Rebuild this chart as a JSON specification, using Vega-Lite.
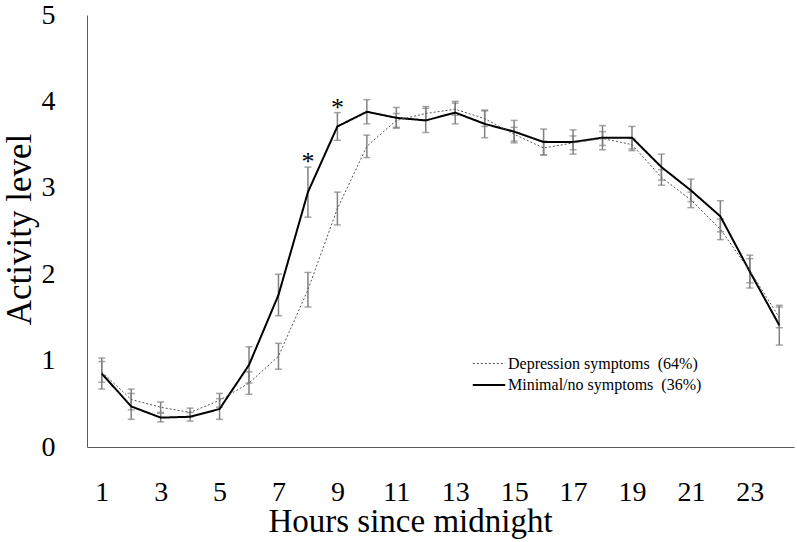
{
  "$schema": "https://vega.github.io/schema/vega-lite/v6.json",
  "width": 707,
  "height": 432,
  "autosize": {"type": "none"},
  "padding": {"left": 87, "top": 15, "right": 3, "bottom": 95},
  "background": "white",
  "config": {
    "view": {"stroke": null},
    "font": "Liberation Serif",
    "axis": {"grid": false, "ticks": false, "domainColor": "#595959", "domainWidth": 1, "labelColor": "black", "titleColor": "black", "labelFont": "Liberation Serif", "titleFont": "Liberation Serif", "titleFontWeight": "normal"}
  },
  "data": {
    "values": [
      {"hour": 1, "group": "Minimal/no symptoms\u00a0 (36%)", "mean": 0.85, "lo": 0.67, "hi": 1.03, "sig": ""},
      {"hour": 2, "group": "Minimal/no symptoms\u00a0 (36%)", "mean": 0.47, "lo": 0.32, "hi": 0.62, "sig": ""},
      {"hour": 3, "group": "Minimal/no symptoms\u00a0 (36%)", "mean": 0.34, "lo": 0.29, "hi": 0.39, "sig": ""},
      {"hour": 4, "group": "Minimal/no symptoms\u00a0 (36%)", "mean": 0.35, "lo": 0.30, "hi": 0.40, "sig": ""},
      {"hour": 5, "group": "Minimal/no symptoms\u00a0 (36%)", "mean": 0.44, "lo": 0.32, "hi": 0.56, "sig": ""},
      {"hour": 6, "group": "Minimal/no symptoms\u00a0 (36%)", "mean": 0.95, "lo": 0.74, "hi": 1.16, "sig": ""},
      {"hour": 7, "group": "Minimal/no symptoms\u00a0 (36%)", "mean": 1.76, "lo": 1.52, "hi": 2.00, "sig": ""},
      {"hour": 8, "group": "Minimal/no symptoms\u00a0 (36%)", "mean": 2.95, "lo": 2.66, "hi": 3.24, "sig": "*"},
      {"hour": 9, "group": "Minimal/no symptoms\u00a0 (36%)", "mean": 3.71, "lo": 3.55, "hi": 3.87, "sig": "*"},
      {"hour": 10, "group": "Minimal/no symptoms\u00a0 (36%)", "mean": 3.88, "lo": 3.74, "hi": 4.02, "sig": ""},
      {"hour": 11, "group": "Minimal/no symptoms\u00a0 (36%)", "mean": 3.81, "lo": 3.69, "hi": 3.93, "sig": ""},
      {"hour": 12, "group": "Minimal/no symptoms\u00a0 (36%)", "mean": 3.78, "lo": 3.64, "hi": 3.92, "sig": ""},
      {"hour": 13, "group": "Minimal/no symptoms\u00a0 (36%)", "mean": 3.87, "lo": 3.74, "hi": 4.00, "sig": ""},
      {"hour": 14, "group": "Minimal/no symptoms\u00a0 (36%)", "mean": 3.74, "lo": 3.58, "hi": 3.90, "sig": ""},
      {"hour": 15, "group": "Minimal/no symptoms\u00a0 (36%)", "mean": 3.65, "lo": 3.52, "hi": 3.78, "sig": ""},
      {"hour": 16, "group": "Minimal/no symptoms\u00a0 (36%)", "mean": 3.53, "lo": 3.38, "hi": 3.68, "sig": ""},
      {"hour": 17, "group": "Minimal/no symptoms\u00a0 (36%)", "mean": 3.53, "lo": 3.39, "hi": 3.67, "sig": ""},
      {"hour": 18, "group": "Minimal/no symptoms\u00a0 (36%)", "mean": 3.58, "lo": 3.44, "hi": 3.72, "sig": ""},
      {"hour": 19, "group": "Minimal/no symptoms\u00a0 (36%)", "mean": 3.58, "lo": 3.45, "hi": 3.71, "sig": ""},
      {"hour": 20, "group": "Minimal/no symptoms\u00a0 (36%)", "mean": 3.24, "lo": 3.09, "hi": 3.39, "sig": ""},
      {"hour": 21, "group": "Minimal/no symptoms\u00a0 (36%)", "mean": 2.97, "lo": 2.84, "hi": 3.10, "sig": ""},
      {"hour": 22, "group": "Minimal/no symptoms\u00a0 (36%)", "mean": 2.67, "lo": 2.49, "hi": 2.85, "sig": ""},
      {"hour": 23, "group": "Minimal/no symptoms\u00a0 (36%)", "mean": 2.03, "lo": 1.84, "hi": 2.22, "sig": ""},
      {"hour": 24, "group": "Minimal/no symptoms\u00a0 (36%)", "mean": 1.41, "lo": 1.18, "hi": 1.64, "sig": ""},
      {"hour": 1, "group": "Depression symptoms\u00a0 (64%)", "mean": 0.87, "lo": 0.75, "hi": 0.99, "sig": ""},
      {"hour": 2, "group": "Depression symptoms\u00a0 (64%)", "mean": 0.55, "lo": 0.43, "hi": 0.67, "sig": ""},
      {"hour": 3, "group": "Depression symptoms\u00a0 (64%)", "mean": 0.46, "lo": 0.40, "hi": 0.52, "sig": ""},
      {"hour": 4, "group": "Depression symptoms\u00a0 (64%)", "mean": 0.40, "lo": 0.35, "hi": 0.45, "sig": ""},
      {"hour": 5, "group": "Depression symptoms\u00a0 (64%)", "mean": 0.54, "lo": 0.46, "hi": 0.62, "sig": ""},
      {"hour": 6, "group": "Depression symptoms\u00a0 (64%)", "mean": 0.74, "lo": 0.61, "hi": 0.87, "sig": ""},
      {"hour": 7, "group": "Depression symptoms\u00a0 (64%)", "mean": 1.05, "lo": 0.90, "hi": 1.20, "sig": ""},
      {"hour": 8, "group": "Depression symptoms\u00a0 (64%)", "mean": 1.82, "lo": 1.62, "hi": 2.02, "sig": ""},
      {"hour": 9, "group": "Depression symptoms\u00a0 (64%)", "mean": 2.76, "lo": 2.57, "hi": 2.95, "sig": ""},
      {"hour": 10, "group": "Depression symptoms\u00a0 (64%)", "mean": 3.48, "lo": 3.35, "hi": 3.61, "sig": ""},
      {"hour": 11, "group": "Depression symptoms\u00a0 (64%)", "mean": 3.78, "lo": 3.70, "hi": 3.86, "sig": ""},
      {"hour": 12, "group": "Depression symptoms\u00a0 (64%)", "mean": 3.86, "lo": 3.78, "hi": 3.94, "sig": ""},
      {"hour": 13, "group": "Depression symptoms\u00a0 (64%)", "mean": 3.91, "lo": 3.84, "hi": 3.98, "sig": ""},
      {"hour": 14, "group": "Depression symptoms\u00a0 (64%)", "mean": 3.80, "lo": 3.71, "hi": 3.89, "sig": ""},
      {"hour": 15, "group": "Depression symptoms\u00a0 (64%)", "mean": 3.62, "lo": 3.54, "hi": 3.70, "sig": ""},
      {"hour": 16, "group": "Depression symptoms\u00a0 (64%)", "mean": 3.46, "lo": 3.38, "hi": 3.54, "sig": ""},
      {"hour": 17, "group": "Depression symptoms\u00a0 (64%)", "mean": 3.52, "lo": 3.44, "hi": 3.60, "sig": ""},
      {"hour": 18, "group": "Depression symptoms\u00a0 (64%)", "mean": 3.57, "lo": 3.49, "hi": 3.65, "sig": ""},
      {"hour": 19, "group": "Depression symptoms\u00a0 (64%)", "mean": 3.50, "lo": 3.43, "hi": 3.57, "sig": ""},
      {"hour": 20, "group": "Depression symptoms\u00a0 (64%)", "mean": 3.12, "lo": 3.03, "hi": 3.21, "sig": ""},
      {"hour": 21, "group": "Depression symptoms\u00a0 (64%)", "mean": 2.86, "lo": 2.77, "hi": 2.95, "sig": ""},
      {"hour": 22, "group": "Depression symptoms\u00a0 (64%)", "mean": 2.52, "lo": 2.40, "hi": 2.64, "sig": ""},
      {"hour": 23, "group": "Depression symptoms\u00a0 (64%)", "mean": 2.04, "lo": 1.90, "hi": 2.18, "sig": ""},
      {"hour": 24, "group": "Depression symptoms\u00a0 (64%)", "mean": 1.50, "lo": 1.38, "hi": 1.62, "sig": ""}
    ]
  },
  "layer": [
    {
      "mark": {"type": "errorbar", "color": "#808080", "thickness": 1.5, "ticks": {"size": 7, "color": "#808080", "strokeWidth": 1.5}},
      "encoding": {
        "x": {
          "field": "hour", "type": "quantitative",
          "scale": {"domain": [0.5, 24.5], "nice": false, "zero": false},
          "axis": {"values": [1, 3, 5, 7, 9, 11, 13, 15, 17, 19, 21, 23], "format": "d", "labelFontSize": 28, "labelBaseline": "alphabetic", "labelPadding": 53, "labelFlush": false, "labelOverlap": false, "title": "Hours since midnight", "titleFontSize": 33, "titleBaseline": "alphabetic", "titleX": 323, "titleY": 84, "titleAnchor": null, "titleAlign": "center"}
        },
        "y": {
          "field": "lo", "type": "quantitative",
          "scale": {"domain": [0, 5], "nice": false},
          "axis": {"values": [0, 1, 2, 3, 4, 5], "format": "d", "labelFontSize": 28, "labelPadding": 32, "labelBaseline": "middle", "labelFlush": false, "labelOverlap": false, "title": "Activity level", "titleFontSize": 35, "titleAngle": -90, "titleBaseline": "middle", "titleAlign": "center", "titleX": -68, "titleY": 214}
        },
        "y2": {"field": "hi"}
      }
    },
    {
      "mark": {"type": "line"},
      "encoding": {
        "x": {"field": "hour", "type": "quantitative"},
        "y": {"field": "mean", "type": "quantitative"},
        "color": {
          "field": "group", "type": "nominal",
          "scale": {"domain": ["Depression symptoms\u00a0 (64%)", "Minimal/no symptoms\u00a0 (36%)"], "range": ["#555555", "#000000"]},
          "legend": {"title": null, "orient": "none", "legendX": 389, "legendY": 336, "padding": 0, "rowPadding": 0, "symbolType": "M-1.35,0H1.35", "symbolSize": 576, "labelFontSize": 16, "labelFont": "Liberation Serif", "labelColor": "black", "labelOffset": 6, "labelLimit": 400}
        },
        "strokeDash": {
          "field": "group", "type": "nominal",
          "scale": {"domain": ["Depression symptoms\u00a0 (64%)", "Minimal/no symptoms\u00a0 (36%)"], "range": [[2, 2], [1, 0]]},
          "legend": {"title": null, "orient": "none", "legendX": 389, "legendY": 336, "padding": 0, "rowPadding": 0, "symbolType": "M-1.35,0H1.35", "symbolSize": 576, "labelFontSize": 16, "labelFont": "Liberation Serif", "labelColor": "black", "labelOffset": 6, "labelLimit": 400}
        },
        "strokeWidth": {
          "field": "group", "type": "nominal",
          "scale": {"domain": ["Depression symptoms\u00a0 (64%)", "Minimal/no symptoms\u00a0 (36%)"], "range": [1, 2]},
          "legend": {"title": null, "orient": "none", "legendX": 389, "legendY": 336, "padding": 0, "rowPadding": 0, "symbolType": "M-1.35,0H1.35", "symbolSize": 576, "labelFontSize": 16, "labelFont": "Liberation Serif", "labelColor": "black", "labelOffset": 6, "labelLimit": 400}
        }
      }
    },
    {
      "transform": [{"filter": "datum.sig == '*'"}],
      "mark": {"type": "text", "fontSize": 26, "font": "Liberation Serif", "baseline": "alphabetic", "dy": 3, "fill": "black", "color": "black"},
      "encoding": {
        "x": {"field": "hour", "type": "quantitative"},
        "y": {"field": "hi", "type": "quantitative"},
        "text": {"field": "sig"}
      }
    }
  ]
}
